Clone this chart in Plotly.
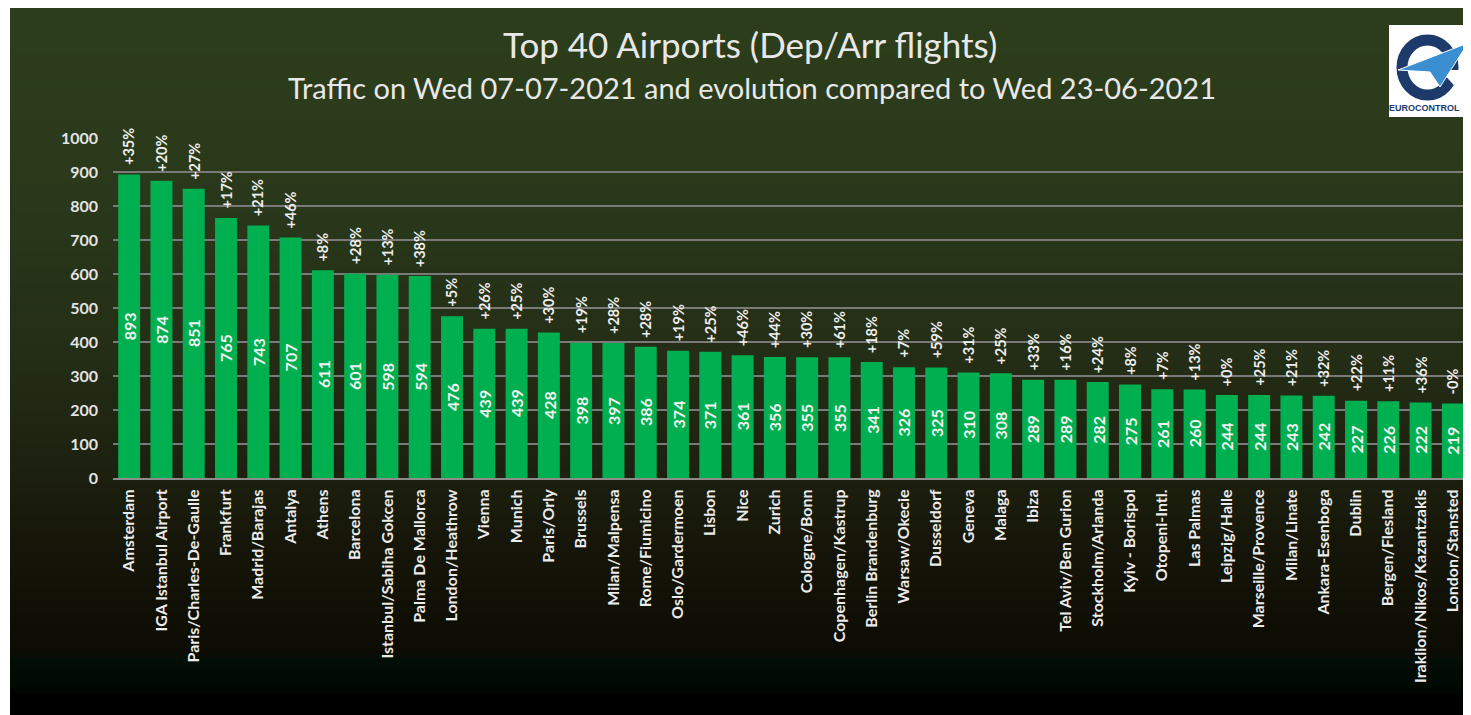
import plotly.graph_objects as go

airports = ["Amsterdam", "IGA Istanbul Airport", "Paris/Charles-De-Gaulle", "Frankfurt",
            "Madrid/Barajas", "Antalya", "Athens", "Barcelona", "Istanbul/Sabiha Gokcen",
            "Palma De Mallorca", "London/Heathrow", "Vienna", "Munich", "Paris/Orly",
            "Brussels", "Milan/Malpensa", "Rome/Fiumicino", "Oslo/Gardermoen", "Lisbon",
            "Nice", "Zurich", "Cologne/Bonn", "Copenhagen/Kastrup", "Berlin Brandenburg",
            "Warsaw/Okecie", "Dusseldorf", "Geneva", "Malaga", "Ibiza", "Tel Aviv/Ben Gurion",
            "Stockholm/Arlanda", "Kyiv - Borispol", "Otopeni-Intl.", "Las Palmas",
            "Leipzig/Halle", "Marseille/Provence", "Milan/Linate", "Ankara-Esenboga",
            "Dublin", "Bergen/Flesland", "Iraklion/Nikos/Kazantzakis", "London/Stansted"]

flights = [893, 874, 851, 765, 743, 707, 611, 601, 598, 594, 476, 439, 439, 428, 398,
           397, 386, 374, 371, 361, 356, 355, 355, 341, 326, 325, 310, 308, 289, 289,
           282, 275, 261, 260, 244, 244, 243, 242, 227, 226, 222, 219]

evolution = ["+35%", "+20%", "+27%", "+17%", "+21%", "+46%", "+8%", "+28%", "+13%", "+38%",
             "+5%", "+26%", "+25%", "+30%", "+19%", "+28%", "+28%", "+19%", "+25%", "+46%",
             "+44%", "+30%", "+61%", "+18%", "+7%", "+59%", "+31%", "+25%", "+33%", "+16%",
             "+24%", "+8%", "+7%", "+13%", "+0%", "+25%", "+21%", "+32%", "+22%", "+11%",
             "+36%", "-0%"]

y_ticks = [0, 100, 200, 300, 400, 500, 600, 700, 800, 900, 1000]

title_text = "Top 40 Airports (Dep/Arr flights)"
subtitle_text = "Traffic on Wed 07-07-2021 and evolution compared to Wed 23-06-2021"

# page body has an 8px margin: figure starts at screen (8, 8)
OX, OY = 8, 8
W, H = 1471 - OX, 715 - OY
L, T = 105, 130
PH = 340
B = H - T - PH
R = 2
PW = W - L - R
FONT = "Lato"


def px(xs):
    return (xs - OX - L) / PW


def py(ys):
    return (OY + T + PH - ys) / PH


# background gradient (screen y, rgb)
stops = [(5, (45, 62, 28)), (200, (41, 56, 26)), (350, (36, 46, 22)), (480, (28, 31, 14)),
         (560, (20, 20, 8)), (652, (12, 12, 4)), (660, (2, 15, 6)), (688, (1, 8, 3)),
         (694, (0, 0, 0)), (720, (0, 0, 0))]


def col_at(y):
    for (y0, c0), (y1, c1) in zip(stops[:-1], stops[1:]):
        if y0 <= y <= y1:
            t = (y - y0) / (y1 - y0) if y1 > y0 else 0
            return "rgb(%d,%d,%d)" % tuple(round(a + (b - a) * t) for a, b in zip(c0, c1))
    return "rgb(0,0,0)"


shapes = []
step = 5
for y in range(8, 716, step):
    shapes.append(dict(type="rect", xref="paper", yref="paper", layer="below",
                       x0=px(10), x1=px(1473), y0=py(y), y1=py(min(y + step + 1, 717)),
                       fillcolor=col_at(y + step / 2), line=dict(width=0)))

# logo
shapes.append(dict(type="rect", xref="paper", yref="paper", layer="above",
                   x0=px(1389), x1=px(1472), y0=py(117), y1=py(25),
                   fillcolor="#ffffff", line=dict(width=0)))
shapes.append(dict(type="circle", xref="paper", yref="paper", layer="above",
                   x0=px(1402), x1=px(1453), y0=py(95), y1=py(40),
                   fillcolor="rgba(0,0,0,0)", line=dict(color="#1d3a6b", width=11)))
shapes.append(dict(type="path", xref="paper", yref="paper", layer="above",
                   path="M %f,%f L %f,%f L %f,%f Z" % (px(1440), py(70), px(1462), py(70),
                                                       px(1462), py(94)),
                   fillcolor="#ffffff", line=dict(width=0)))
shapes.append(dict(type="path", xref="paper", yref="paper", layer="above",
                   path="M %f,%f L %f,%f L %f,%f L %f,%f Z" % (px(1398), py(70), px(1468), py(43),
                                                              px(1440), py(87), px(1430), py(72)),
                   fillcolor="#3b8fd0", line=dict(color="#ffffff", width=1)))

fig = go.Figure()
fig.add_trace(go.Bar(
    x=airports, y=flights,
    marker=dict(color="#00b050", line=dict(width=0)),
    cliponaxis=False, hoverinfo="skip",
))

annotations = []
for a, v, e in zip(airports, flights, evolution):
    annotations.append(dict(x=a, y=v, xref="x", yref="y", text=e, showarrow=False,
                            textangle=-90, xanchor="center", yanchor="bottom", yshift=7,
                            font=dict(family=FONT, size=14.5, color="#eeeeee", weight="bold")))
    annotations.append(dict(x=a, y=v / 2, xref="x", yref="y", text=str(v), showarrow=False,
                            textangle=-90, xanchor="center", yanchor="middle",
                            font=dict(family=FONT, size=16, color="#f2f2f2", weight="bold")))

annotations.append(dict(x=px(750), y=py(44), xref="paper", yref="paper", text=title_text,
                        showarrow=False, xanchor="center", yanchor="middle",
                        font=dict(family=FONT, size=35, color="#e8e8e8")))
annotations.append(dict(x=px(752), y=py(87), xref="paper", yref="paper", text=subtitle_text,
                        showarrow=False, xanchor="center", yanchor="middle",
                        font=dict(family=FONT, size=29, color="#e8e8e8")))
annotations.append(dict(x=px(1424), y=py(108), xref="paper", yref="paper", text="EUROCONTROL",
                        showarrow=False, xanchor="center", yanchor="middle",
                        font=dict(family="Liberation Sans", size=9,
                                  color="#1d3a6b", weight="bold")))

fig.update_layout(
    width=W, height=H,
    margin=dict(l=L, r=R, t=T, b=B, autoexpand=False),
    paper_bgcolor="#ffffff", plot_bgcolor="rgba(0,0,0,0)",
    bargap=0.32, showlegend=False,
    shapes=shapes, annotations=annotations,
    xaxis=dict(type="category", tickangle=-90, automargin=False, showgrid=False,
               tickfont=dict(family=FONT, size=16, color="#ececec", weight="bold"),
               showline=True, linecolor="#8c8c8c", linewidth=2, ticks="",
               ticklabelstandoff=3),
    yaxis=dict(range=[0, 1000], tickvals=y_ticks, automargin=False, showgrid=True,
               gridcolor="#7a7a7a", gridwidth=1.5, zeroline=False, showline=False,
               tickfont=dict(family=FONT, size=16, color="#e4e4e4", weight="bold"),
               ticks="", ticklabelstandoff=14),
)

fig.write_html("out.html")
